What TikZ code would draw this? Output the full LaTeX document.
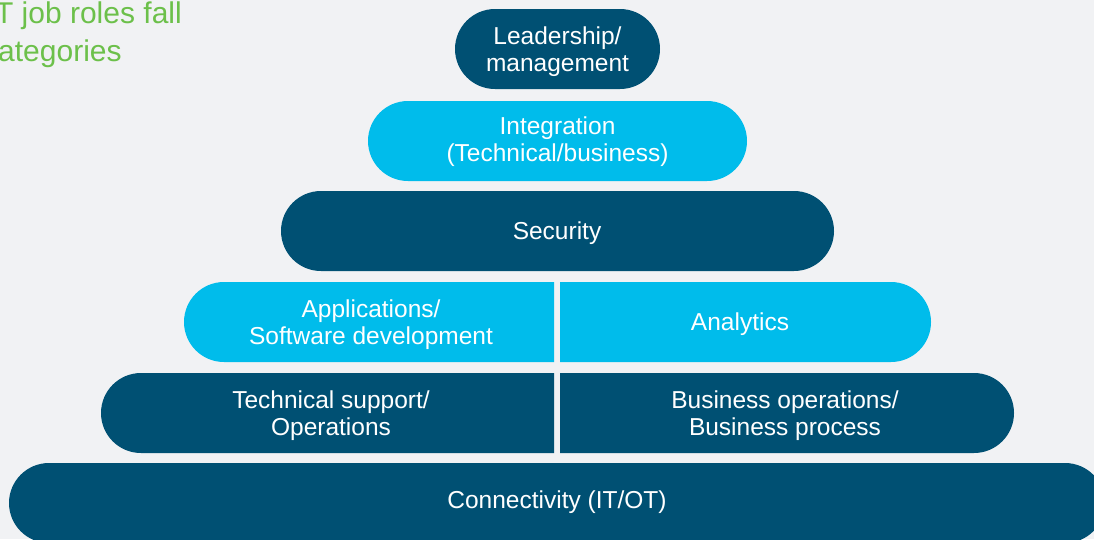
\documentclass[tikz,border=0pt]{standalone}
\usepackage{fontspec}
\setmainfont{Liberation Sans}
\usetikzlibrary{shapes.misc}
\definecolor{bgc}{HTML}{F1F2F4}
\definecolor{deep}{HTML}{005073}
\definecolor{sky}{HTML}{00BCEB}
\definecolor{leaf}{HTML}{6CC04A}
\begin{document}
\begin{tikzpicture}[x=1pt,y=-1pt,
  tiertext/.style={text=white, align=center, inner sep=0pt,
    font=\fontsize{24.5}{27}\selectfont},
  tier/.style={rounded rectangle, minimum height=80pt, inner sep=0pt},
  darktier/.style={tier, fill=deep},
  lighttier/.style={tier, fill=sky},
  heading/.style={text=leaf, inner sep=0pt, font=\fontsize{30}{36}\selectfont}]
  % page
  \fill[bgc] (0,0) rectangle (1094,539);
  \useasboundingbox (0,0) rectangle (1094,539);
  % heading (runs off the left edge)
  \node[heading, anchor=base east] (head1) at (182,23) {T job roles fall};
  \node[heading, anchor=base west] (head2) at (-2,61) {ategories};
  % full-width tiers
  \node[darktier, minimum width=205pt] (lead) at (557.5,49) {};
  \node[lighttier, minimum width=379pt] (integ) at (557.5,141) {};
  \node[darktier, minimum width=553pt] (sec) at (557.5,231) {};
  \node[darktier, minimum width=1096pt] (conn) at (557,503) {};
  % split tiers: rounded on the outer side only
  \fill[sky]  (554,282) -- (224,282) arc[start angle=270, end angle=90, radius=40] -- (554,362) -- cycle;
  \fill[sky]  (560,282) -- (891,282) arc[start angle=-90, end angle=90, radius=40] -- (560,362) -- cycle;
  \fill[deep] (554,373) -- (141,373) arc[start angle=270, end angle=90, radius=40] -- (554,453) -- cycle;
  \fill[deep] (560,373) -- (974,373) arc[start angle=-90, end angle=90, radius=40] -- (560,453) -- cycle;
  % tier labels
  \node[tiertext] (leadt)  at (557.5,52) {Leadership/\\management};
  \node[tiertext] (integt) at (557.5,142) {Integration\\(Technical/business)};
  \node[tiertext] (sect)   at (557,233) {Security};
  \node[tiertext] (apps)   at (371,325) {Applications/\\Software development};
  \node[tiertext] (anal)   at (740,324) {Analytics};
  \node[tiertext] (tech)   at (331,416) {Technical support/\\Operations};
  \node[tiertext] (bus)    at (785,416) {Business operations/\\Business process};
  \node[tiertext] (connt)  at (557,502) {Connectivity (IT/OT)};
\end{tikzpicture}
\end{document}
